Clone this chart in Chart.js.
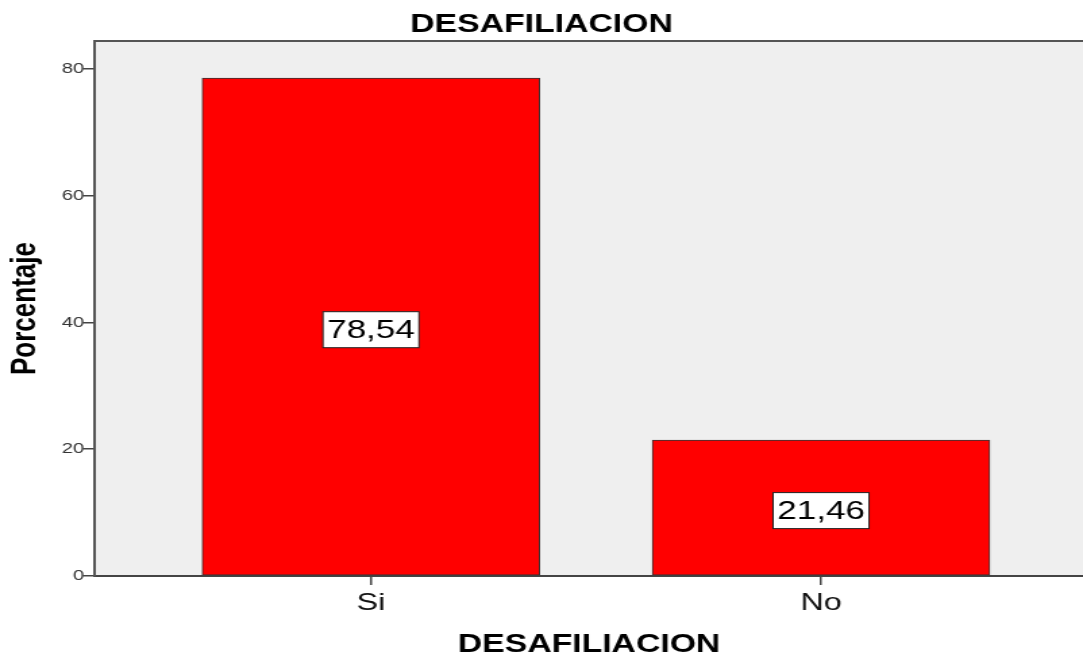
<!DOCTYPE html>
<html>
<head>
<meta charset="utf-8">
<script src="https://cdn.jsdelivr.net/npm/chart.js@4"></script>
<style>
  body { margin: 0; background: #fff; }
</style>
</head>
<body>
<!-- El gráfico original está estirado a lo ancho, igual que aquí -->
<canvas id="grafico" width="802" height="654" style="display:block;width:1083px;height:654px"></canvas>
<script>
// Datos
const categorias = ["Si", "No"];
const porcentajes = [78.54, 21.46];
const posiciones = [1, 2];
const ticksY = [0, 20, 40, 60, 80];

const fuente = "'Liberation Sans', Arial, sans-serif";

// Fondo gris del área del gráfico y línea superior
const fondoPlot = {
  id: "fondoPlot",
  beforeDraw(chart) {
    const { ctx, chartArea: a } = chart;
    ctx.save();
    ctx.fillStyle = "#ffffff";
    ctx.fillRect(0, 0, chart.width, chart.height);
    ctx.fillStyle = "#efefef";
    ctx.fillRect(a.left, a.top, a.right - a.left, a.bottom - a.top);
    ctx.strokeStyle = "#555555";
    ctx.lineWidth = 2;
    ctx.beginPath();
    ctx.moveTo(a.left, a.top);
    ctx.lineTo(a.right, a.top);
    ctx.stroke();
    ctx.restore();
  },
};

// Etiquetas con el valor en una caja blanca, en medio de cada barra
const etiquetas = {
  id: "etiquetas",
  afterDatasetsDraw(chart) {
    const ctx = chart.ctx;
    const meta = chart.getDatasetMeta(0);
    ctx.save();
    ctx.font = "26px " + fuente;
    ctx.textAlign = "center";
    ctx.textBaseline = "middle";
    meta.data.forEach((barra, i) => {
      const texto = porcentajes[i].toFixed(2).replace(".", ",");
      const ancho = ctx.measureText(texto).width + 6;
      const alto = 36;
      const cx = barra.x;
      const cy = (barra.y + barra.base) / 2 + 3;
      ctx.fillStyle = "#ffffff";
      ctx.fillRect(cx - ancho / 2, cy - alto / 2, ancho, alto);
      ctx.strokeStyle = "#222222";
      ctx.lineWidth = 1;
      ctx.strokeRect(cx - ancho / 2, cy - alto / 2, ancho, alto);
      ctx.fillStyle = "#000000";
      ctx.fillText(texto, cx, cy + 1);
    });
    ctx.restore();
  },
};

const ctx = document.querySelector("#grafico").getContext("2d");
const chart = new Chart(ctx, {
  type: "bar",
  data: {
    datasets: [
      {
        data: posiciones.map((x, i) => ({ x: x, y: porcentajes[i] })),
        backgroundColor: "#ff0000",
        borderColor: "#333333",
        borderWidth: 1,
        borderSkipped: false,
        barThickness: 250,
      },
    ],
  },
  options: {
    responsive: false,
    animation: false,
    layout: { padding: 0 },
    plugins: {
      legend: { display: false },
      tooltip: { enabled: false },
      title: {
        display: true,
        text: "DESAFILIACION",
        color: "#000000",
        font: { family: fuente, size: 25, weight: "bold", lineHeight: 1.2 },
        padding: { top: 10, bottom: 1 },
      },
    },
    scales: {
      x: {
        type: "linear",
        min: 0.387,
        max: 2.582,
        offset: false,
        afterBuildTicks(scale) {
          scale.ticks = posiciones.map((v) => ({ value: v }));
        },
        afterFit(scale) {
          scale.height = 78;
        },
        ticks: {
          color: "#111111",
          font: { family: fuente, size: 24 },
          padding: 4,
          maxRotation: 0,
          callback: (v) => categorias[posiciones.indexOf(v)] || "",
        },
        grid: {
          offset: false,
          drawOnChartArea: false,
          drawTicks: true,
          tickLength: 9,
          color: "#444444",
          lineWidth: 1.5,
        },
        border: { display: true, color: "#444444", width: 2 },
        title: {
          display: true,
          text: "DESAFILIACION",
          color: "#000000",
          font: { family: fuente, size: 25, weight: "bold", lineHeight: 1 },
          padding: { top: 0, bottom: -4 },
        },
      },
      y: {
        min: 0,
        max: 84.4,
        afterBuildTicks(scale) {
          scale.ticks = ticksY.map((v) => ({ value: v }));
        },
        afterFit(scale) {
          scale.width = 70.4;
        },
        ticks: {
          color: "#333333",
          font: { family: fuente, size: 15 },
          padding: -1,
        },
        grid: {
          drawOnChartArea: false,
          drawTicks: true,
          tickLength: 9,
          color: "#444444",
          lineWidth: 1.5,
        },
        border: { display: true, color: "#555555", width: 2 },
        title: {
          display: true,
          text: "Porcentaje",
          color: "#000000",
          font: { family: fuente, size: 26, weight: "bold", lineHeight: 1.2 },
          padding: { top: 3, bottom: 0 },
        },
      },
    },
  },
  plugins: [fondoPlot, etiquetas],
});
</script>
</body>
</html>
